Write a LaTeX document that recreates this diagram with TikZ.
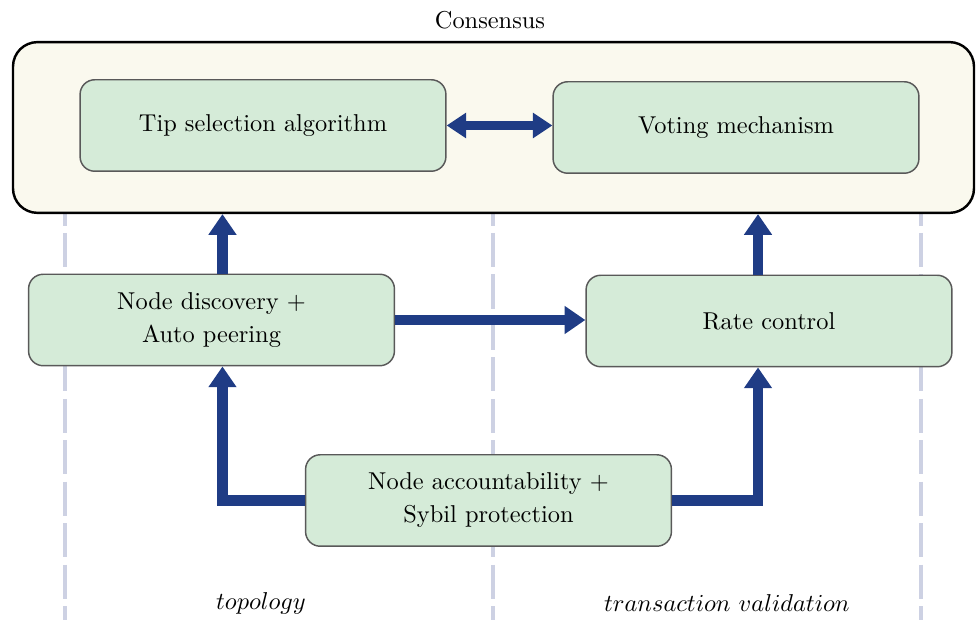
\documentclass[tikz,border=0pt]{standalone}
\usetikzlibrary{arrows.meta}
\definecolor{boxgreen}{RGB}{213,235,216}
\definecolor{conscream}{RGB}{250,249,238}
\definecolor{flowblue}{RGB}{31,60,133}
\definecolor{laneline}{RGB}{205,209,227}
\begin{document}
\begin{tikzpicture}[
    x=0.41pt, y=-0.41pt,
    compbox/.style={draw=black!65, fill=boxgreen, rounded corners=6pt, line width=0.6pt,
      minimum width=150pt, minimum height=37.5pt, align=center, inner sep=2pt},
    consbox/.style={draw=black, fill=conscream, rounded corners=10pt, line width=1pt,
      minimum width=394pt, minimum height=70pt},
    flow/.style={draw=flowblue, line width=4.2pt, -{Triangle[width=11pt,length=8.5pt]}},
    biflow/.style={draw=flowblue, line width=3.8pt,
      {Triangle[width=10pt,length=8pt]}-{Triangle[width=10pt,length=8pt]}},
    lane/.style={draw=laneline, line width=1.6pt, dash pattern=on 14pt off 3pt},
    lanelbl/.style={inner sep=1pt}
  ]
  \useasboundingbox (0,0) rectangle (977,620);
  \foreach \x in {65,493,921} {
    \draw[lane] (\x,150) -- (\x,620);
  }
  \node (constitle) at (490,20) {Consensus};
  \node[consbox] (cons) at (493.5,127.5) {};
  \node[compbox] (tip) at (263,125.5) {Tip selection algorithm};
  \node[compbox] (vote) at (736,127.5) {Voting mechanism};
  \node[compbox] (disc) at (211.5,320) {Node discovery +\\[1.5pt]Auto peering};
  \node[compbox] (rate) at (769,321) {Rate control};
  \node[compbox] (acct) at (488.5,500.5) {Node accountability +\\[1.5pt]Sybil protection};
  \node[lanelbl] (topo) at (261,603) {$topology$};
  \node[lanelbl] (txval) at (727,603) {$transaction\ validation$};
  \coordinate (discup) at ([xshift=4.5pt]disc.north);
  \coordinate (discdown) at ([xshift=4.5pt]disc.south);
  \coordinate (rateup) at ([xshift=-4.5pt]rate.north);
  \coordinate (ratedown) at ([xshift=-4.5pt]rate.south);
  \draw[biflow] (tip.east) -- (tip.east -| vote.west);
  \draw[flow] (discup) -- (discup |- cons.south);
  \draw[flow] (rateup) -- (rateup |- cons.south);
  \draw[flow] (disc.east) -- (disc.east -| rate.west);
  \draw[flow] (acct.west) -| (discdown);
  \draw[flow] (acct.east) -| (ratedown);
\end{tikzpicture}
\end{document}
